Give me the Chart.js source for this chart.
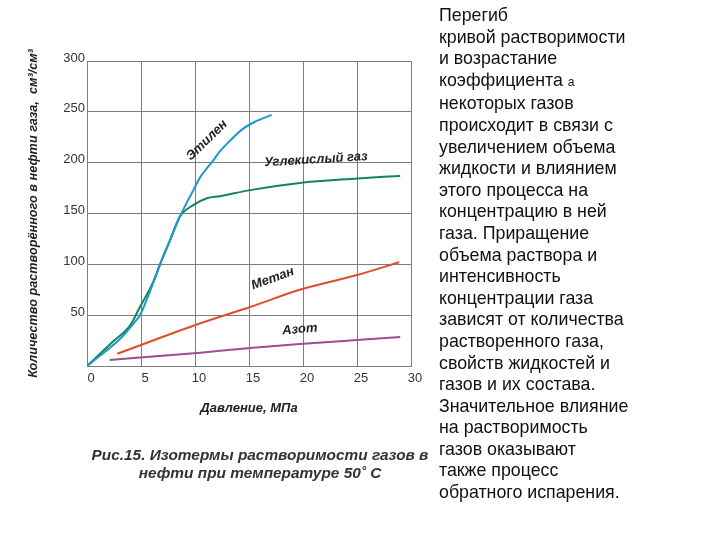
<!DOCTYPE html>
<html>
<head>
<meta charset="utf-8">
<script src="https://cdn.jsdelivr.net/npm/chart.js"></script>
<style>
  body { margin: 0; background: #fff; }
  #wrap { position: relative; width: 720px; height: 540px; }
  #c { position: absolute; left: 0; top: 0; }
  #caption {
    position: absolute; left: 58px; top: 446px; width: 404px;
    text-align: center; color: #333; line-height: 18.5px;
    font: italic bold 15.4px "Liberation Sans", Arial, sans-serif;
  }
  #note {
    position: absolute; left: 439px; top: 5px; color: #111;
    font: 17.8px "Liberation Sans", Arial, sans-serif; line-height: 21.6px;
  }
  #note .a { font-size: 12px; }
</style>
</head>
<body>
<div id="wrap">
  <canvas id="c" width="720" height="540"></canvas>
  <div id="caption">Рис.15. Изотермы растворимости газов в<br>нефти при температуре 50˚ С</div>
  <div id="note">Перегиб<br>кривой растворимости<br>и возрастание<br>коэффициента <span class="a">a</span><br>некоторых газов<br>происходит в связи с<br>увеличением объема<br>жидкости и влиянием<br>этого процесса на<br>концентрацию в ней<br>газа. Приращение<br>объема раствора и<br>интенсивность<br>концентрации газа<br>зависят от количества<br>растворенного газа,<br>свойств жидкостей и<br>газов и их состава.<br>Значительное влияние<br>на растворимость<br>газов оказывают<br>также процесс<br>обратного испарения.</div>
</div>
<script>
// tick values
var pressureTicks = [0, 5, 10, 15, 20, 25, 30];
var volumeTicks = [0, 50, 100, 150, 200, 250, 300];

// Этилен
var ethyleneP = [0, 1.2, 3.0, 4.4, 4.9, 6.0, 6.8, 7.7, 8.6, 9.35, 9.8, 10.5, 11.6, 12.3, 13.0, 14.4, 15.5, 17.1];
var ethyleneV = [0, 10, 26, 43, 50, 78, 101, 124, 147, 163, 172, 186, 201, 211, 219, 233, 240, 247];

// Углекислый газ
var co2P = [0, 1.2, 2.4, 4.0, 4.9, 6.1, 6.8, 7.7, 8.6, 9.8, 11.1, 12.3, 15.1, 19.7, 24.4, 29.0];
var co2V = [0, 12, 24, 40, 58, 82, 101, 124, 147, 158, 165, 167, 173, 180, 184, 187];

// Метан
var methaneP = [2.8, 10.5, 15.1, 19.7, 25.0, 28.9];
var methaneV = [12, 42, 58, 75, 89.5, 102];

// Азот
var nitrogenP = [2.1, 10.5, 15.1, 19.7, 25.0, 29.0];
var nitrogenV = [6, 13, 17.7, 21.6, 25.6, 28.5];

function pts(xs, ys) {
    var out = [];
    for (var i in xs) {
        out.push({x: xs[i], y: ys[i]});
    }
    return out;
}

function line(label, xs, ys, color) {
    return {
        label: label,
        data: pts(xs, ys),
        borderColor: color,
        borderWidth: 2,
        pointRadius: 0,
        fill: false,
        cubicInterpolationMode: 'monotone'
    };
}

// names drawn next to the curves
var curveNames = [
    {text: 'Этилен', x: 11.1, y: 222, angle: -44},
    {text: 'Углекислый газ', x: 21.2, y: 203, angle: -3.5},
    {text: 'Метан', x: 17.2, y: 86, angle: -20},
    {text: 'Азот', x: 19.7, y: 36, angle: -5}
];

var curveLabels = {
    id: 'curveLabels',
    afterDatasetsDraw: function (chart) {
        var ctx = chart.ctx;
        var xs = chart.scales.x, ys = chart.scales.y;
        ctx.save();
        ctx.font = 'italic bold 13px "Liberation Sans", Arial, sans-serif';
        ctx.fillStyle = '#222';
        ctx.textAlign = 'center';
        ctx.textBaseline = 'middle';
        curveNames.forEach(function (n) {
            ctx.save();
            ctx.translate(xs.getPixelForValue(n.x), ys.getPixelForValue(n.y));
            ctx.rotate(n.angle * Math.PI / 180);
            ctx.fillText(n.text, 0, 0);
            ctx.restore();
        });
        ctx.restore();
    }
};

var gridColor = '#7d7d7d';
var tickFont = {family: '"Liberation Sans", Arial, sans-serif', size: 13};
var titleFont = {family: '"Liberation Sans", Arial, sans-serif', size: 12.7, style: 'italic', weight: 'bold'};

new Chart(document.getElementById('c'), {
    type: 'line',
    data: {
        datasets: [
            line('Этилен', ethyleneP, ethyleneV, '#2196cf'),
            line('Углекислый газ', co2P, co2V, '#13874f'),
            line('Метан', methaneP, methaneV, '#dd4f2a'),
            line('Азот', nitrogenP, nitrogenV, '#9c4f8c')
        ]
    },
    options: {
        responsive: false,
        animation: false,
        layout: {padding: {left: 20, right: 309, top: 61, bottom: 124}},
        plugins: {legend: {display: false}, tooltip: {enabled: false}},
        scales: {
            x: {
                type: 'linear',
                min: 0, max: 30,
                afterBuildTicks: function (s) { s.ticks = pressureTicks.map(function (v) { return {value: v}; }); },
                afterFit: function (s) { s.height = 50; },
                grid: {color: gridColor, lineWidth: 1, drawTicks: false},
                border: {color: gridColor},
                ticks: {font: tickFont, color: '#333', padding: 5, labelOffset: 4, maxRotation: 0},
                title: {display: true, text: 'Давление, МПа', font: {family: titleFont.family, size: 13, style: 'italic', weight: 'bold'}, color: '#222', padding: 0}
            },
            y: {
                min: 0, max: 300,
                afterBuildTicks: function (s) { s.ticks = volumeTicks.map(function (v) { return {value: v}; }); },
                afterFit: function (s) { s.width = 67; },
                grid: {color: gridColor, lineWidth: 1, drawTicks: false},
                border: {color: gridColor},
                ticks: {
                    font: tickFont, color: '#333', padding: 2, labelOffset: -3,
                    callback: function (v) { return v === 0 ? '' : v; }
                },
                title: {display: true, text: 'Количество растворённого в нефти газа,  см³/см³', font: titleFont, color: '#222', padding: {top: 6, bottom: 0}}
            }
        }
    },
    plugins: [curveLabels]
});
</script>
</body>
</html>
